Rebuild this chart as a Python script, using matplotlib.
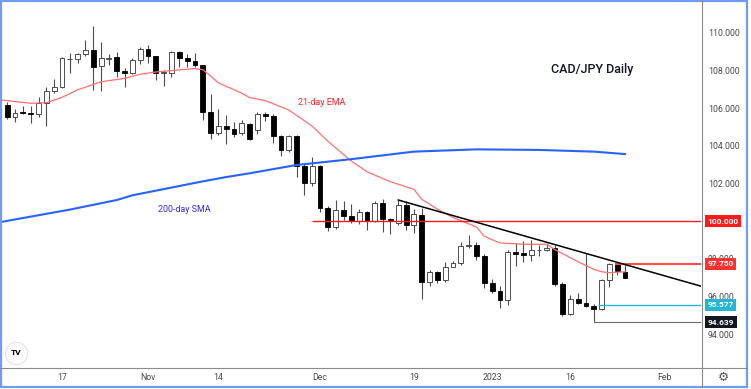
import matplotlib
matplotlib.use("Agg")
import matplotlib.pyplot as plt
from matplotlib.lines import Line2D
from matplotlib.patches import Rectangle

plt.rcParams['font.family'] = ['Roboto', 'DejaVu Sans']

# one bar per weekday, index 0 = 17 Oct 2022
bar_idx = list(range(-7, 73))
opens = [106.18, 105.56, 105.80, 105.74, 105.68, 106.30, 106.94, 107.15, 108.62, 108.60,
         108.87, 109.08, 108.25, 108.64, 108.73, 108.00, 107.86, 108.57, 109.15, 108.78,
         107.89, 107.86, 109.01, 108.66, 108.50, 108.28, 105.82, 104.71, 105.06, 104.89,
         104.67, 105.17, 104.85, 105.68, 105.61, 104.53, 103.79, 104.53, 102.94, 102.02,
         102.94, 100.69, 99.68, 100.60, 100.28, 100.03, 100.48, 100.03, 100.96, 100.10,
         99.93, 100.85, 99.80, 100.33, 96.79, 97.29, 96.88, 97.59, 97.80, 98.69,
         98.74, 98.18, 96.74, 96.31, 95.82, 98.39, 98.30, 98.19, 98.46, 98.48,
         98.60, 96.67, 95.08, 95.86, 95.65, 95.48, 95.35, 96.88, 97.73, 97.32]
highs = [106.35, 105.95, 106.12, 106.12, 106.62, 107.15, 107.54, 108.70, 108.92, 108.95,
         109.63, 110.37, 109.54, 108.87, 109.01, 108.13, 108.66, 109.24, 109.36, 108.80,
         108.04, 109.03, 109.06, 108.87, 108.92, 108.32, 106.76, 105.95, 105.65, 105.29,
         105.38, 105.24, 105.80, 105.80, 105.70, 104.60, 104.58, 104.60, 103.08, 103.43,
         103.00, 100.81, 101.13, 101.06, 100.92, 100.65, 100.55, 101.08, 101.18, 100.15,
         101.13, 101.10, 100.64, 100.69, 97.40, 97.35, 97.85, 97.90, 98.92, 99.27,
         98.90, 98.25, 96.95, 96.55, 98.45, 98.83, 98.97, 99.01, 98.74, 98.79,
         98.74, 96.79, 96.09, 96.20, 98.30, 95.60, 96.92, 97.78, 97.86, 97.68]
lows = [105.42, 105.29, 105.68, 105.20, 105.56, 105.06, 106.83, 107.06, 107.86, 108.42,
        108.78, 106.97, 106.92, 108.30, 107.68, 107.15, 107.81, 108.34, 108.42, 107.50,
        107.19, 107.68, 108.21, 108.21, 108.21, 105.38, 104.35, 104.58, 104.10, 104.49,
        104.58, 104.30, 104.64, 105.34, 104.14, 103.47, 103.70, 102.37, 101.40, 101.90,
        100.51, 99.50, 99.60, 100.07, 99.89, 99.86, 99.54, 99.98, 99.45, 99.33,
        99.80, 99.54, 99.36, 95.86, 96.56, 96.74, 96.80, 97.55, 97.70, 98.60,
        97.95, 96.44, 96.18, 95.38, 95.56, 97.63, 97.85, 97.91, 98.16, 98.40,
        96.55, 94.95, 95.00, 95.60, 95.43, 94.639, 95.30, 96.53, 97.15, 96.97]
closes = [105.56, 105.77, 105.76, 105.72, 106.30, 106.94, 107.15, 108.66, 108.64, 108.87,
          109.08, 108.21, 108.66, 108.68, 107.98, 107.86, 108.57, 109.15, 108.78, 107.86,
          107.92, 109.01, 108.69, 108.53, 108.28, 105.82, 104.71, 105.06, 104.89, 104.64,
          105.20, 104.35, 105.70, 105.61, 104.53, 103.79, 104.53, 102.94, 102.02, 102.94,
          100.69, 99.71, 100.60, 100.28, 100.03, 100.49, 100.03, 100.96, 100.11, 100.05,
          100.85, 99.80, 100.37, 96.79, 97.29, 96.88, 97.59, 97.80, 98.69, 98.73,
          98.16, 96.71, 96.31, 95.82, 98.39, 98.26, 98.19, 98.48, 98.50, 98.60,
          96.67, 95.08, 95.86, 95.68, 95.50, 95.36, 96.88, 97.73, 97.38, 97.00]

# moving averages
ema_idx = [-8, -4, -2, 0, 2, 5, 8, 10, 12, 15, 17, 18, 19, 20, 23, 24, 26, 29, 32, 34,
           37, 39, 42, 45, 46, 48, 50, 53, 54, 56, 59, 62, 63, 66, 68, 69, 70, 72]
ema_val = [106.45, 106.27, 106.30, 106.58, 106.98, 107.41, 107.59, 107.81, 107.93, 108.04,
           108.11, 108.05, 107.72, 107.35, 106.80, 106.57, 106.41, 105.91, 105.05, 104.25,
           103.20, 102.63, 102.10, 101.70, 101.17, 100.65, 100.20, 99.70, 99.20, 98.85,
           98.78, 98.78, 98.50, 97.85, 97.45, 97.32, 97.27, 97.32]
sma_idx = [-8, 1, 7, 9, 18, 21, 24, 30, 37, 45, 53, 61, 68, 72]
sma_val = [99.95, 100.62, 101.13, 101.38, 102.12, 102.35, 102.55, 102.99, 103.30, 103.70,
           103.82, 103.79, 103.70, 103.57]

tick_idx = [0, 11, 20, 33, 45, 55, 65, 77]
tick_lbl = ['17', 'Nov', '14', 'Dec', '19', '2023', '16', 'Feb']
# 100.000 sits under the 100 level label, so it is not shown
price_ticks = [94, 96, 98, 102, 104, 106, 108, 110]

levels = [100.0, 97.75, 95.577, 94.639]
level_start = [32, 70.7, 68.6, 68]
level_colors = ['#ff1a1a', '#ff4d4d', '#22b5d4', '#6a6a6a']
level_bg = ['#ff1a1a', '#ff3030', '#22b5d4', '#131722']
level_lw = [1.0, 1.5, 1.0, 0.8]

trend_idx = [43, 71]
trend_val = [101.13, 97.82]

W, H = 751, 389
fig = plt.figure(figsize=(W / 100, H / 100), dpi=100)
ax = fig.add_axes([2 / W, (H - 367) / H, 699 / W, 365 / H])
x0, x1 = -7.67, 81.71
ax.set_xlim(x0, x1)
ax.set_ylim(92.262, 111.646)
for s in ax.spines.values():
    s.set_visible(False)

# candles
ax.vlines(bar_idx, lows, highs, colors='#4d4d4d', lw=0.8, zorder=2)
bottoms = [min(o, c) for o, c in zip(opens, closes)]
heights = [max(abs(c - o), 0.025) for o, c in zip(opens, closes)]
fills = ['black' if c < o else 'white' for o, c in zip(opens, closes)]
edges = ['black' if c < o else '#333333' for o, c in zip(opens, closes)]
ax.bar(bar_idx, heights, bottom=bottoms, width=0.62, color=fills,
       edgecolor=edges, linewidth=0.6, zorder=3)

ax.plot(ema_idx, ema_val, color='#ff7070', lw=0.9, zorder=4)
ax.plot(sma_idx, sma_val, color='#2962ff', lw=1.5, zorder=4)

# horizontal levels and their price labels
for lv, st, col, bg, lw in zip(levels, level_start, level_colors, level_bg, level_lw):
    ax.hlines(lv, st, x1, color=col, lw=lw, zorder=4)
    ax.text(1.0095, lv, f'{lv:.3f}', transform=ax.get_yaxis_transform(),
            ha='left', va='center', color='white', fontsize=6.0, weight='bold',
            bbox=dict(boxstyle='square,pad=0.3', fc=bg, ec='none'), zorder=6)

# trendline
slope = (trend_val[1] - trend_val[0]) / (trend_idx[1] - trend_idx[0])
ax.plot([trend_idx[0], x1], [trend_val[0], trend_val[0] + slope * (x1 - trend_idx[0])],
        color='black', lw=1.1, zorder=5)

ax.text(33.2, 106.32, '21-day EMA', color='#ff2020', fontsize=6.4, ha='center', va='center')
ax.text(15.7, 100.65, '200-day SMA', color='#2929ff', fontsize=6.4, ha='center', va='center')
ax.text(67.8, 108.04, 'CAD/JPY Daily', color='#131722', fontsize=9, weight='medium',
        ha='center', va='center')

ax.yaxis.tick_right()
ax.set_yticks(price_ticks)
ax.set_yticklabels([f'{p:.3f}' for p in price_ticks])
ax.tick_params(axis='y', length=0, pad=5, labelsize=6.3, labelcolor='#4a4a4a')
ax.set_xticks(tick_idx)
ax.set_xticklabels(tick_lbl)
ax.tick_params(axis='x', length=0, pad=4.5, labelsize=6.3, labelcolor='#4a4a4a')

# tradingview logo
ax.plot(0.02, 0.0384, 'o', ms=16, mfc='white', mec='#e0e3eb', mew=0.8,
        transform=ax.transAxes, clip_on=False, zorder=6)
ax.text(0.02, 0.0384, 'TV', transform=ax.transAxes, fontsize=6, weight='bold',
        ha='center', va='center', zorder=7)

# panel separators, gear, outer frame
fig.add_artist(Line2D([701.5 / W] * 2, [(H - 387) / H, 1], color='#8a8a8a', lw=0.8))
fig.add_artist(Line2D([0, 747 / W], [(H - 367.5) / H] * 2, color='#8a8a8a', lw=0.8))
fig.text(723 / W, 1 - 377 / H, '\u2699', fontsize=9, color='#50535e',
         family='DejaVu Sans', ha='center', va='center')
fig.add_artist(Rectangle((1 / W, (H - 387) / H), 745.5 / W, 385.7 / H,
                         transform=fig.transFigure, fill=False, ec='#6f9cf6', lw=1.6))

fig.savefig('out.png', dpi=100)
